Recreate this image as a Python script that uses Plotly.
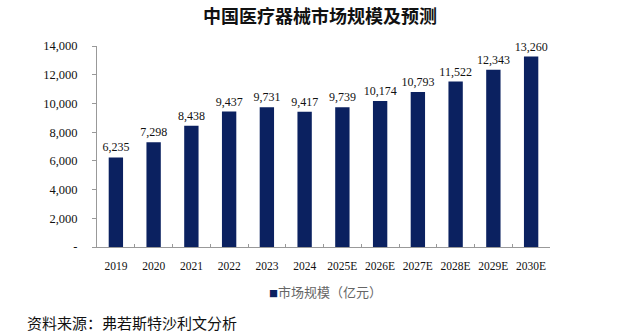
import plotly.graph_objects as go

years = ["2019", "2020", "2021", "2022", "2023", "2024",
         "2025E", "2026E", "2027E", "2028E", "2029E", "2030E"]
market_size = [6235, 7298, 8438, 9437, 9731, 9417,
               9739, 10174, 10793, 11522, 12343, 13260]
y_tick_vals = [0, 2000, 4000, 6000, 8000, 10000, 12000, 14000]
y_tick_text = ["-", "2,000", "4,000", "6,000", "8,000", "10,000", "12,000", "14,000"]
series_name = "市场规模（亿元）"
bar_color = "#0b2160"

serif = "Liberation Serif, Times New Roman, serif"
cjk = "Noto Sans CJK SC, sans-serif"

fig = go.Figure()
fig.add_trace(go.Bar(
    x=years,
    y=market_size,
    name=series_name,
    marker=dict(color=bar_color, line=dict(width=0)),
    text=[f"{v:,}" for v in market_size],
    textposition="outside",
    constraintext="none",
    textfont=dict(family=serif, size=12, color="#111111"),
    cliponaxis=False,
    showlegend=False,
))

fig.update_layout(
    width=640, height=335,
    margin=dict(l=97, r=90, t=46, b=88),
    paper_bgcolor="white", plot_bgcolor="white",
    bargap=0.62,
    title=dict(text="<b>中国医疗器械市场规模及预测</b>", x=0.5, xanchor="center",
               y=0.95, yanchor="middle",
               font=dict(family=cjk, size=18, color="#111111")),
    xaxis=dict(showline=True, linecolor="#999999", linewidth=1,
               ticks="inside", tickson="boundaries", ticklen=3, tickcolor="#999999",
               tickangle=0,
               tickfont=dict(family=serif, size=11.5, color="#111111"),
               ticklabelstandoff=8, showgrid=False),
    yaxis=dict(range=[0, 14000], tickvals=y_tick_vals, ticktext=y_tick_text,
               showline=True, linecolor="#999999", linewidth=1,
               ticks="outside", ticklen=4, tickcolor="#999999",
               tickfont=dict(family=serif, size=12.5, color="#111111"),
               showgrid=False, ticklabelstandoff=12),
)

# legend key drawn as a small square next to the series name
fig.add_annotation(text=f"<span style='color:{bar_color}; font-size:9px'>■</span>{series_name}",
                   xref="paper", yref="paper", x=(325 - 97) / 453, xanchor="center",
                   y=-0.22, yanchor="middle", showarrow=False,
                   font=dict(family=cjk, size=13, color="#666666"))

fig.add_annotation(text="资料来源：弗若斯特沙利文分析", xref="paper", yref="paper",
                   x=(25 - 97) / 453, xanchor="left", y=-0.375, yanchor="middle",
                   showarrow=False,
                   font=dict(family=cjk, size=15, color="#111111"))

fig.write_html("out.html")
